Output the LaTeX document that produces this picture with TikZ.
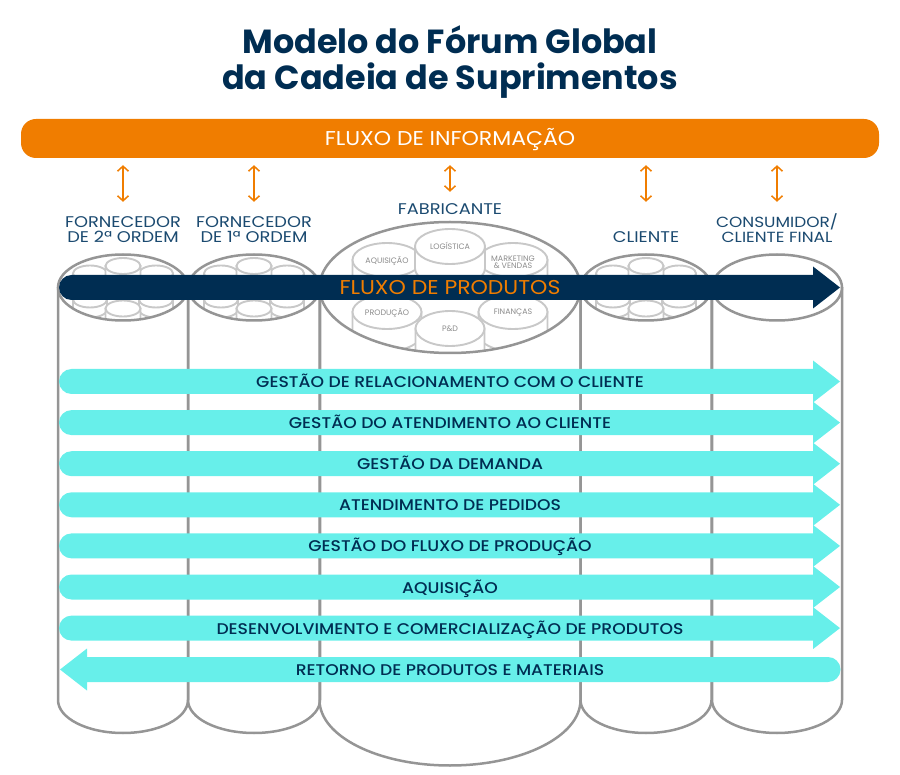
\documentclass[tikz,border=0pt]{standalone}
\usepackage{fontspec}
\setmainfont{Poppins}
\newfontfamily\medfont[FakeStretch=1.11]{Poppins Medium}
\newfontfamily\widefont[FakeStretch=1.15]{Poppins}
\newfontfamily\barfont[FakeStretch=1.1]{Poppins}
\usepackage{tikz}
\definecolor{navy}{HTML}{002D52}
\definecolor{labelblue}{HTML}{1B4A70}
\definecolor{barorange}{HTML}{F07D00}
\definecolor{flowcyan}{HTML}{67EFEA}
\definecolor{cylgray}{HTML}{959595}
\definecolor{drumgray}{HTML}{C8C8C8}
\usetikzlibrary{arrows.meta}
\newcommand{\fsize}[1]{\fontsize{#1}{#1}\selectfont}
% right pointing arrow on height #2, round at the left
\newcommand{\flowright}[2]{\fill[#1] (71.5,#2-12.5) -- (813,#2-12.5) -- (813,#2-21) -- (840,#2) -- (813,#2+21) -- (813,#2+12.5) -- (71.5,#2+12.5) arc[start angle=90,end angle=270,radius=12.5] -- cycle;}
% x, y, x radius, y radius, height
\newcommand{\drum}[5]{\filldraw[drum] (#1-#3,#2) -- (#1-#3,#2+#5) arc[start angle=180,end angle=0,x radius=#3,y radius=#4] -- (#1+#3,#2) -- cycle;
  \filldraw[drum] (#1,#2) ellipse [x radius=#3,y radius=#4];}
\tikzset{
  drum/.style={draw=drumgray,fill=white,line width=1.9pt},
  cyl/.style={draw=cylgray,line width=2.5pt},
  orangearrow/.style={draw=barorange,line width=1.5pt,{Straight Barb[length=5pt,width=11pt]}-{Straight Barb[length=5pt,width=11pt]}},
  title/.style={text=navy,font=\fsize{33.4}\bfseries,inner sep=0pt,text height=24pt,text depth=0pt},
  partner/.style={text=labelblue,font=\fsize{15.5}\widefont,inner sep=0pt,text height=11pt,text depth=0pt},
  rowlabel/.style={text=navy,font=\fsize{15.5}\medfont,inner sep=0pt,text height=11pt,text depth=0pt},
  drumlabel/.style={text=gray!90,font=\fsize{7.9},align=center,inner sep=0pt},
  drumset/.pic={
    \begin{scope}
      \clip (0,0) ellipse [x radius=65,y radius=32];
      \drum{-33}{-14}{17}{8}{10}\drum{33}{-14}{17}{8}{10}\drum{0}{-21.5}{17.5}{8}{10}
      \drum{-33}{12}{17}{8}{10}\drum{33}{12}{17}{8}{10}\drum{0}{21}{17.5}{8}{10}
    \end{scope}
  },
}
\begin{document}
\begin{tikzpicture}[x=1pt,y=-1pt]
    \useasboundingbox (0,0) rectangle (900,775);
    \node[title] (title) at (450,41.5) {Modelo do Fórum Global};
    \node[title] (title2) at (450,77.5) {da Cadeia de Suprimentos};
    \node[fill=barorange,rounded corners=15pt,minimum width=858pt,minimum height=39pt,inner sep=0pt,text=white,font=\fsize{20}\barfont,text height=14pt,text depth=0pt] (info) at (450,138.5) {FLUXO DE INFORMAÇÃO};

    \node[partner] (forn2) at (123,222) {FORNECEDOR};
    \node[partner] (forn2b) at (123,237) {DE 2ª ORDEM};
    \node[partner] (forn1) at (254,222) {FORNECEDOR};
    \node[partner] (forn1b) at (254,237) {DE 1ª ORDEM};
    \node[partner] (fabr) at (450,209) {FABRICANTE};
    \node[partner] (clie) at (646,237) {CLIENTE};
    \node[partner,font=\fsize{14.7}\widefont] (cons) at (777,222) {CONSUMIDOR/};
    \node[partner,font=\fsize{14.7}\widefont] (consb) at (777,237) {CLIENTE FINAL};
    % arrows from the bar to the labels
    \foreach \n/\gap in {forn2/14.5, forn1/14.5, fabr/11.5, clie/29.5, cons/14.5}
      \draw[orangearrow,shorten <=7pt,shorten >=\gap pt] (info.south -| \n) -- (\n.north);

    % cylinders
    \foreach \cx/\rx/\ry in {123/65/33, 254/66/33, 450/130.5/65.5, 646/65.5/33, 777/65/33}
      \draw[cyl] (\cx-\rx,287) -- (\cx-\rx,700) arc[start angle=180,end angle=0,x radius=\rx,y radius=\ry] -- (\cx+\rx,287);
    \foreach \cx in {123, 254, 646}
      \pic at (\cx,287.5) {drumset};
    \begin{scope}
      \clip (450,287.5) ellipse [x radius=130,y radius=65];
      \drum{387}{260}{34.5}{17}{22}\drum{513}{260}{34.5}{17}{22}\drum{450}{246.5}{35}{17.5}{22}
      \drum{387}{312}{34.5}{17}{22}\drum{513}{312}{34.5}{17}{22}\drum{450}{328.5}{34.5}{17.5}{22}
    \end{scope}
    \foreach \cx/\rx/\ry in {123/65/33, 254/66/33, 450/130.5/65.5, 646/65.5/33, 777/65/33}
      \draw[cyl] (\cx,287.5) ellipse [x radius=\rx,y radius=\ry];

    \node[drumlabel] (logi) at (450,245.5) {LOGÍSTICA};
    \node[drumlabel] (aqui) at (387,261.5) {AQUISIÇÃO};
    \node[drumlabel] (mark) at (513,262) {MARKETING\\[-.5pt]\& VENDAS};
    \node[drumlabel] (prod) at (387,313) {PRODUÇÃO};
    \node[drumlabel] (fina) at (513,313) {FINANÇAS};
    \node[drumlabel] (pd) at (450,328.5) {P\&D};

    % flows
    \flowright{navy}{287.5}
    \node[text=barorange,font=\fsize{20}\barfont,inner sep=0pt,text height=14pt,text depth=0pt] (prods) at (450,288) {FLUXO DE PRODUTOS};
    \foreach \y/\i/\txt in {381.5/1/GESTÃO DE RELACIONAMENTO COM O CLIENTE,
      422.6/2/GESTÃO DO ATENDIMENTO AO CLIENTE,
      463.7/3/GESTÃO DA DEMANDA,
      504.8/4/ATENDIMENTO DE PEDIDOS,
      545.9/5/GESTÃO DO FLUXO DE PRODUÇÃO,
      587/6/AQUISIÇÃO,
      628.1/7/DESENVOLVIMENTO E COMERCIALIZAÇÃO DE PRODUTOS}
    {
      \flowright{flowcyan}{\y}
      \node[rowlabel] (row\i) at (450,\y+0.5) {\txt};
    }
    \fill[flowcyan] (828,657) -- (87,657) -- (87,648.5) -- (60,669.5) -- (87,690.5) -- (87,682) -- (828,682) arc[start angle=90,end angle=-90,radius=12.5] -- cycle;
    \node[rowlabel] (row8) at (450,670) {RETORNO DE PRODUTOS E MATERIAIS};
    \end{tikzpicture}
\end{document}
